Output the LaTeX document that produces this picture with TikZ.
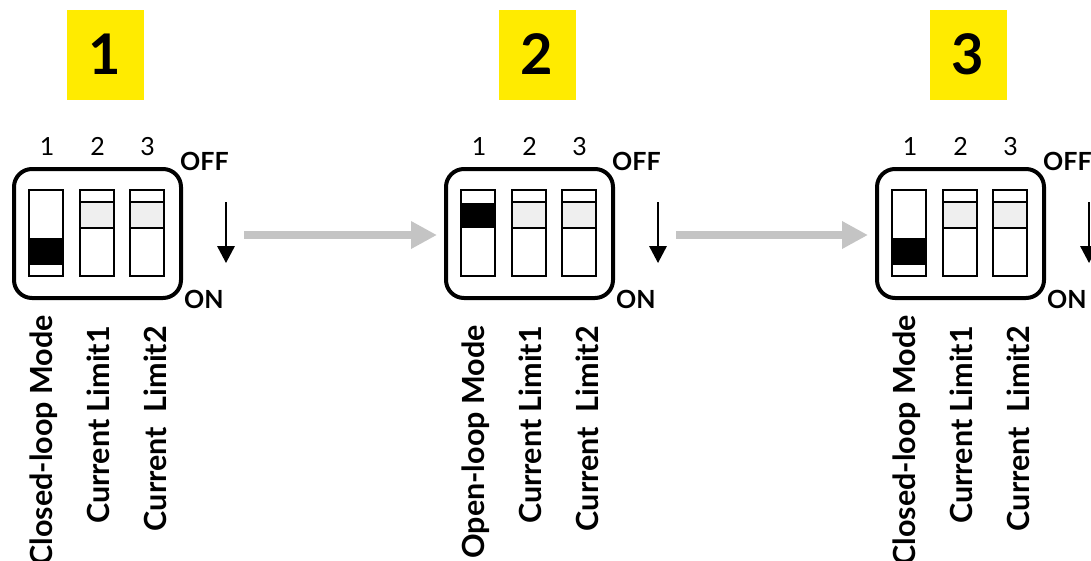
\documentclass[tikz,border=0pt]{standalone}
\usepackage{fontspec}
\setmainfont{Lato}
\usetikzlibrary{arrows.meta}
\definecolor{tagyellow}{RGB}{255,235,0}
\definecolor{flowgrey}{RGB}{196,196,196}
\definecolor{levergrey}{RGB}{239,239,239}

\begin{document}
\begin{tikzpicture}[x=1pt,y=-1pt,
	dipbox/.style={draw,line width=4pt,rounded corners=18pt,minimum width=167pt,minimum height=129pt,inner sep=0pt},
	slot/.style={draw,line width=2pt,minimum width=34pt,minimum height=86pt,inner sep=0pt,outer sep=0pt},
	lever/.style={draw,line width=2pt,fill=levergrey},
	tag/.style={fill=tagyellow,minimum width=77pt,minimum height=90pt,inner sep=0pt,font=\fontsize{56}{60}\selectfont\bfseries},
	pinnum/.style={font=\fontsize{25}{28}\selectfont,inner sep=0pt,anchor=base},
	side/.style={font=\fontsize{25}{28}\selectfont\bfseries,inner sep=0pt,anchor=base west},
	fnlabel/.style={font=\fontsize{30.5}{33}\selectfont\bfseries,inner sep=0pt,rotate=90,anchor=base east},
	flow/.style={draw=flowgrey,line width=8pt,-{Triangle[length=26pt,width=26pt]}}]
		\useasboundingbox (0,0) rectangle (1091,560);
		\foreach \b/\dx/\mode/\top/\kt/\kh in {1/0/Closed-loop Mode/315/48/27,2/432/Open-loop Mode/325/12.5/25.5,3/863/Closed-loop Mode/315/48/27}{
		\begin{scope}[xshift=\dx pt]
			\node[tag] (tag\b) at (105,54.5) {\b};
			\node[dipbox] (dip\b) at (97.5,233.5) {};
			\node[slot] (s\b1) at (46,233) {};
			\node[slot] (s\b2) at (96.5,233) {};
			\node[slot] (s\b3) at (146.5,233) {};
			\fill (s\b1.north west) ++(0,\kt) rectangle ++(34,\kh);
			\draw[lever] (s\b2.north west) ++(0,12) rectangle ++(34,26);
			\draw[lever] (s\b3.north west) ++(0,12) rectangle ++(34,26);
			\node[slot] at (s\b1) {};
			\node[pinnum] (p\b1) at (47,155) {1};
			\node[pinnum] (p\b2) at (97.5,155) {2};
			\node[pinnum] (p\b3) at (147.5,155) {3};
			\node[side] (off\b) at (180,170) {OFF};
			\node[side] (on\b) at (184,308) {ON};
			\draw[line width=1.8pt,-{Triangle[length=17pt,width=17.5pt]}] (226,202) -- (226,263);
			\node[fnlabel] (m\b) at (52,\top) {\mode};
			\node[fnlabel] (c\b1) at (109,326) {Current Limit1};
			\node[fnlabel] (c\b2) at (166,326) {Current\ \ Limit2};
		\end{scope}}
		\draw[flow,shorten <=61pt,shorten >=7pt] ([yshift=-1.5pt]dip1.east) -- ([yshift=-1.5pt]dip2.west);
		\draw[flow,shorten <=61pt,shorten >=7pt] ([yshift=-1.5pt]dip2.east) -- ([yshift=-1.5pt]dip3.west);
	\end{tikzpicture}
\end{document}
